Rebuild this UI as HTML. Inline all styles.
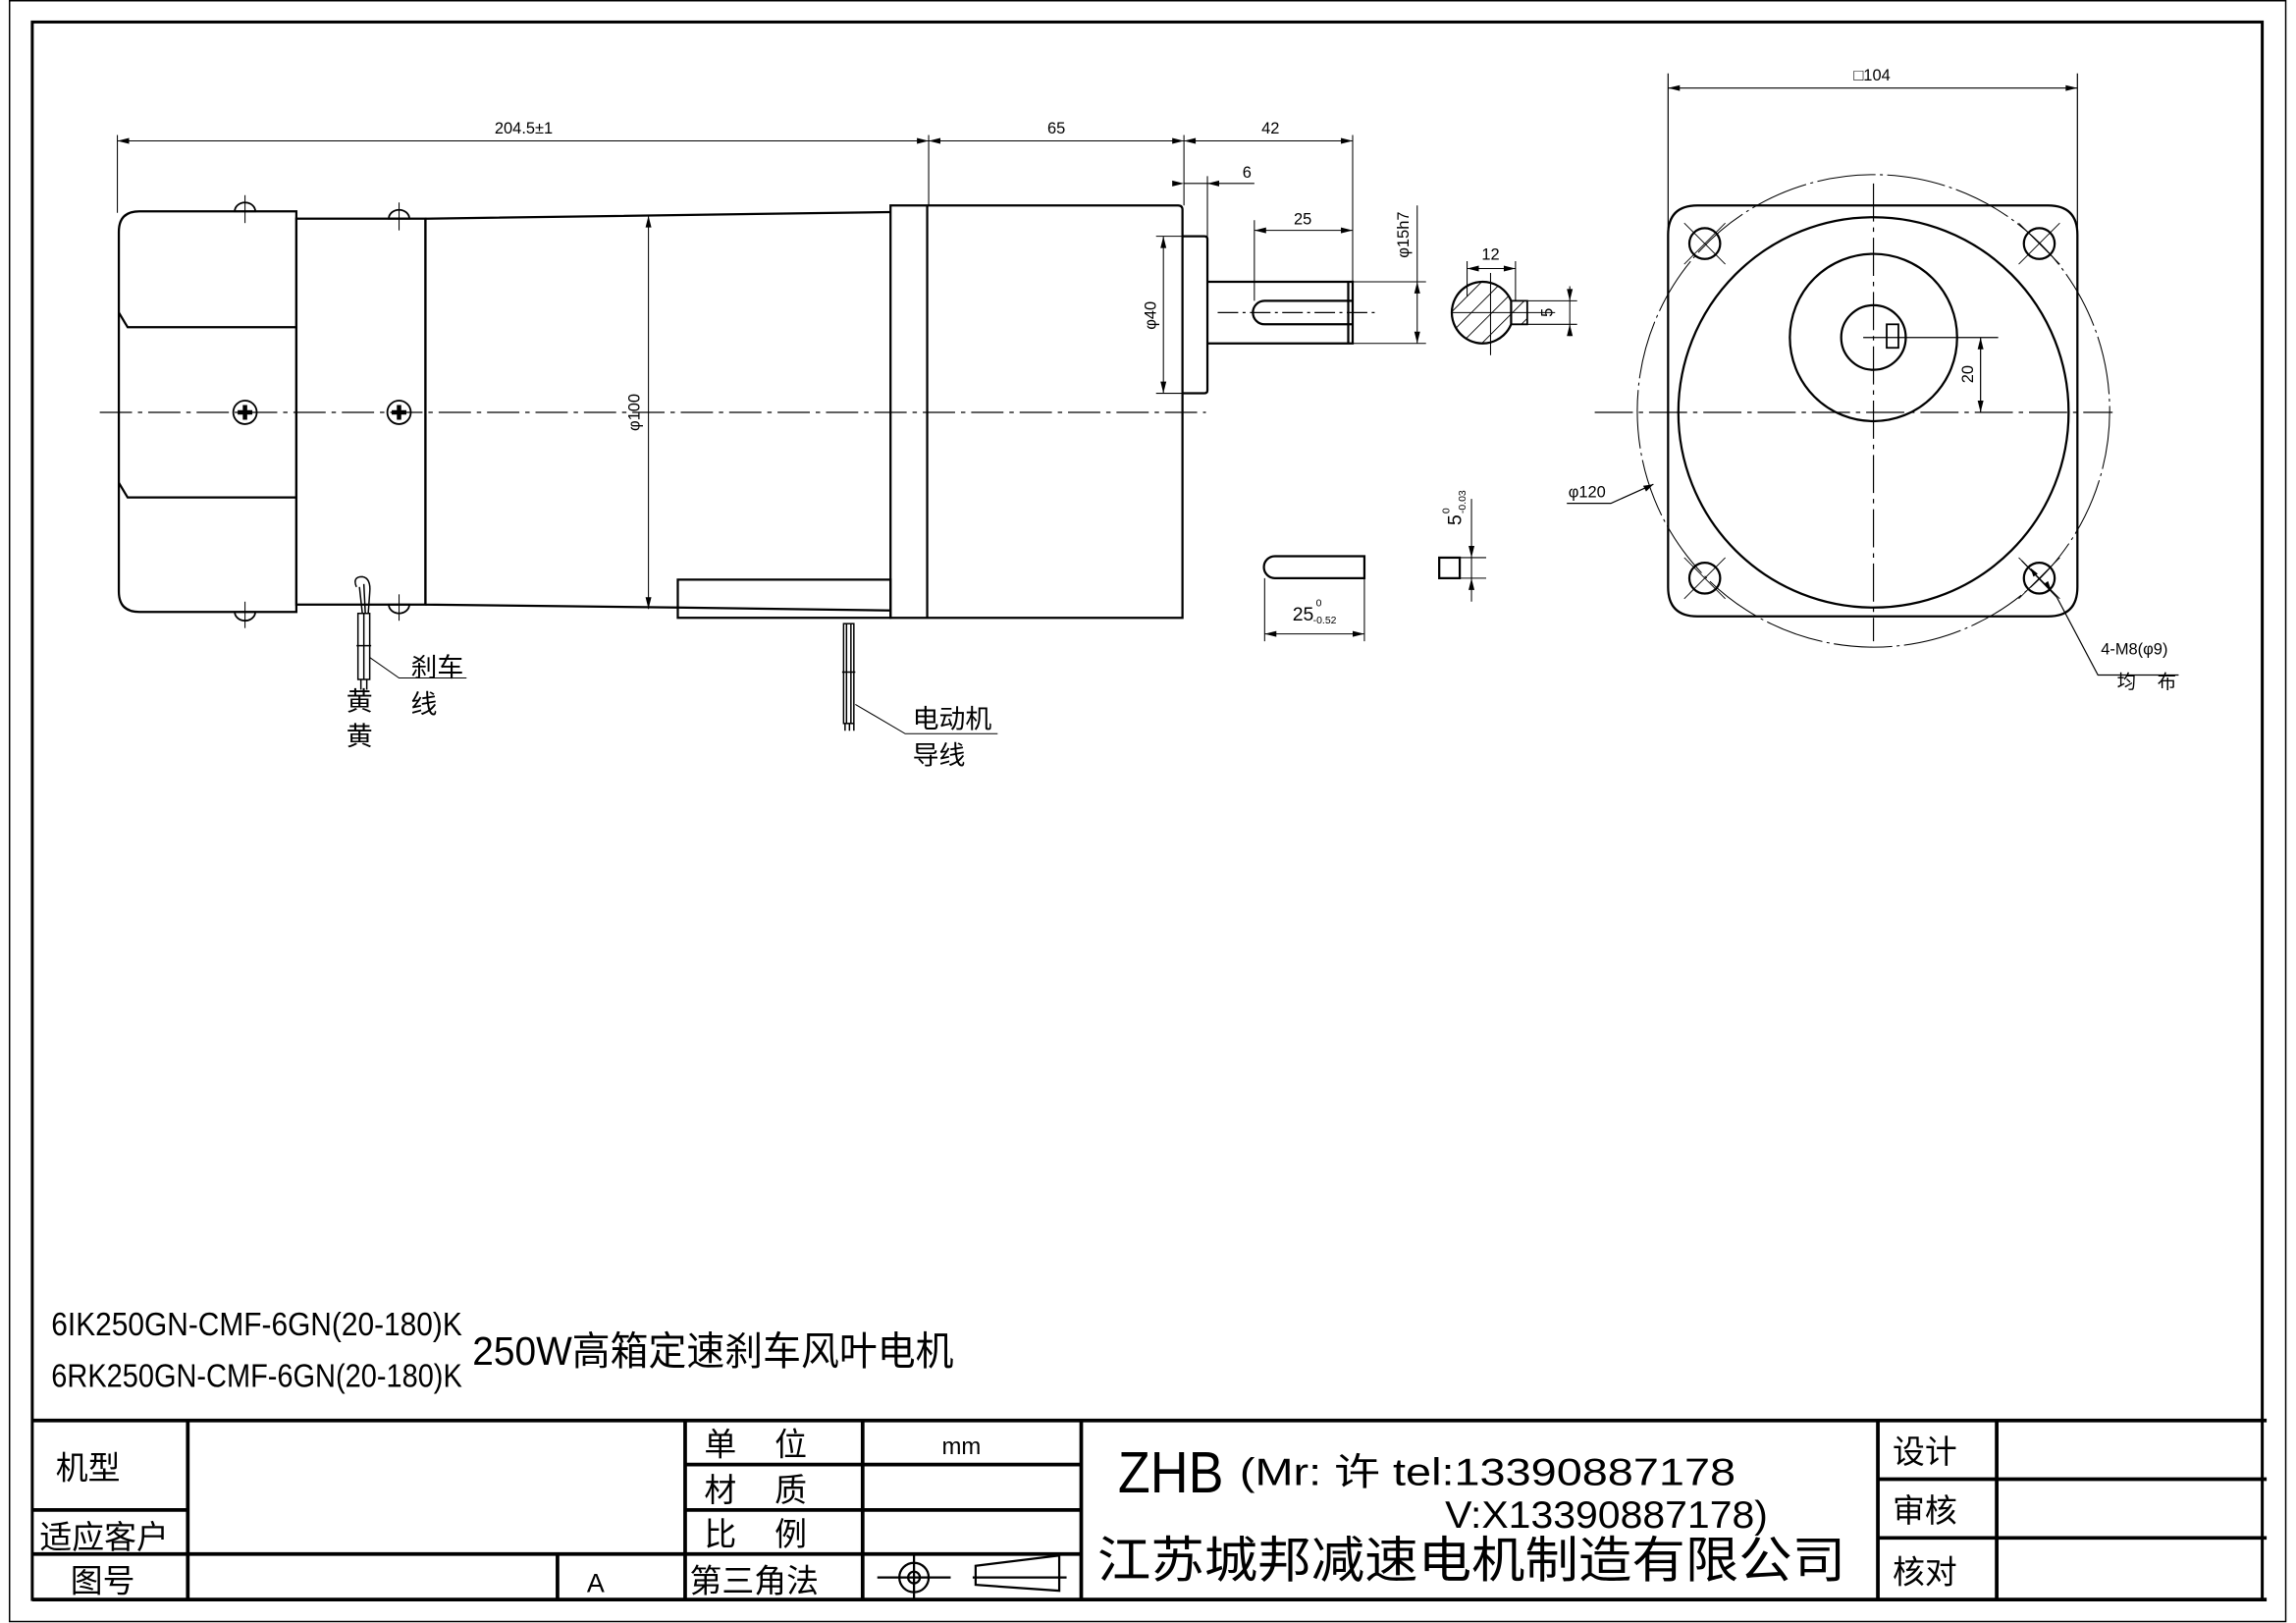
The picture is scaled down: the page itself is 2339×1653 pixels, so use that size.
<!DOCTYPE html>
<html><head><meta charset="utf-8"><style>
html,body{margin:0;padding:0;background:#fff}
svg{display:block}
text{font-family:"Liberation Sans","Noto Sans CJK SC",sans-serif;fill:#000;white-space:pre}
</style></head><body>
<svg width="2339" height="1653" viewBox="0 0 1565 1106" xmlns="http://www.w3.org/2000/svg">
<g fill="none" stroke="#000" stroke-width="1.5">
<rect x="6.5" y="0.5" width="1551.5" height="1104.5" stroke-width="1"/>
<rect x="22" y="15" width="1520" height="1075" stroke-width="2"/>
<line x1="68" y1="281" x2="822" y2="281" stroke-width="0.8" stroke-dasharray="22,4,3,4"/>
<path d="M202,144 H95 Q81,144 81,158 V403 Q81,417 95,417 H202 Z"/>
<path d="M81,213 L87,223 H202 M81,329 L87,339 H202"/>
<rect x="202" y="149" width="88" height="263"/>
<path d="M290,149 L607,144.5 M290,412 L462,414 L607,416 M290,149 V412"/>
<rect x="462" y="395" width="145" height="26"/>
<path d="M607,140 H803 Q806,140 806,143 V421 H607 Z M632,140 V421"/>
<path d="M806,161 H821 Q823,161 823,163 V266 Q823,268 821,268 H806"/>
<path d="M823,192 H922 V234 H823 M919,192 V234 M862,205 H922 M862,221 H922 M862,205 A8,8 0 0 0 862,221"/>
<line x1="830" y1="213" x2="940" y2="213" stroke-width="0.8" stroke-dasharray="14,3,2,3"/>
</g>
<g fill="none" stroke="#000" stroke-width="1.2">
<path d="M160,144 A7,6 0 0 1 174,144 Z M160,417 A7,6 0 0 0 174,417 Z M265,149 A7,6 0 0 1 279,149 Z M265,412 A7,6 0 0 0 279,412 Z"/>
<line x1="167" y1="133" x2="167" y2="152" stroke-width="0.7"/><line x1="167" y1="410" x2="167" y2="428" stroke-width="0.7"/>
<line x1="272" y1="138" x2="272" y2="157" stroke-width="0.7"/><line x1="272" y1="405" x2="272" y2="423" stroke-width="0.7"/>
<circle cx="167" cy="281" r="8"/><circle cx="272" cy="281" r="8"/>
<path d="M162,281 H172 M167,276 V286 M267,281 H277 M272,276 V286" stroke-width="3"/>
</g>
<g fill="none" stroke="#000" stroke-width="1">
<path d="M243,400 Q240,393 247,393 Q253,394 252,404 L251,418 M245,400 L247,418 M248,398 L249,418"/>
<rect x="244" y="418" width="8" height="45"/>
<line x1="248" y1="418" x2="248" y2="463"/>
<line x1="243" y1="440" x2="253" y2="440"/>
<line x1="246" y1="463" x2="246" y2="470"/><line x1="250" y1="463" x2="250" y2="470"/>
<path d="M252,448 L272,462 H318" stroke-width="0.7"/>
<rect x="575" y="425" width="7" height="68"/>
<line x1="577" y1="425" x2="577" y2="493"/><line x1="580" y1="425" x2="580" y2="493"/>
<line x1="574" y1="458" x2="583" y2="458"/>
<path d="M576,493 V498 M579,493 V498 M582,493 V498"/>
<path d="M583,480 L617,500 H680" stroke-width="0.7"/>
</g>
<text x="280" y="461" font-size="18">刹车</text>
<text x="280" y="486" font-size="18">线</text>
<text x="236" y="484" font-size="18">黄</text>
<text x="236" y="508" font-size="18">黄</text>
<text x="622" y="496" font-size="18">电动机</text>
<text x="622" y="521" font-size="18">导线</text>
<g stroke="#000" stroke-width="0.7" fill="none">
<path d="M80,92 V145 M633,92 V140 M807,92 V140 M922,92 V192 M80,96 H922"/>
<path d="M823,120 V161 M807,125 H855 M855,150 V205 M855,157 H922"/>
<path d="M922,192 H972 M922,234 H972 M966,140 V234"/>
<path d="M788,161 H806 M788,268 H806 M793,161 V268"/>
<path d="M442,147 V415"/>
</g>
<g fill="#000">
<path d="M80,96 l8,-2 v4z M633,96 l-8,-2 v4z M633,96 l8,-2 v4z M807,96 l-8,-2 v4z M807,96 l8,-2 v4z M922,96 l-8,-2 v4z"/>
<path d="M807,125 l-8,-2 v4z M823,125 l8,-2 v4z M855,157 l8,-2 v4z M922,157 l-8,-2 v4z"/>
<path d="M966,192 l-2,8 h4z M966,234 l-2,-8 h4z M793,161 l-2,8 h4z M793,268 l-2,-8 h4z M442,147 l-2,8 h4z M442,415 l-2,-8 h4z"/>
</g>
<g font-size="11">
<text x="357" y="91" text-anchor="middle">204.5±1</text>
<text x="720" y="91" text-anchor="middle">65</text>
<text x="866" y="91" text-anchor="middle">42</text>
<text x="850" y="121" text-anchor="middle">6</text>
<text x="888" y="153" text-anchor="middle">25</text>
<text transform="translate(960,160) rotate(-90)" text-anchor="middle">φ15h7</text>
<text transform="translate(788,215) rotate(-90)" text-anchor="middle">φ40</text>
<text transform="translate(436,281) rotate(-90)" text-anchor="middle">φ100</text>
</g>
<defs><clipPath id="kc"><path d="M1030,205 A21,21 0 1 0 1030,221 H1041 V205 Z"/></clipPath></defs>
<g clip-path="url(#kc)" stroke="#000" stroke-width="0.6">
<path d="M990,240 L1040,190 M980,236 L1030,186 M1000,244 L1050,194 M1010,248 L1060,198 M970,232 L1020,182 M1020,252 L1070,202"/>
</g>
<path d="M1030,205 A21,21 0 1 0 1030,221 V205" fill="none" stroke="#000" stroke-width="1.5"/>
<path d="M1030,205 H1041 V221 H1030" fill="none" stroke="#000" stroke-width="1.2"/>
<g stroke="#000" stroke-width="0.7" fill="none">
<path d="M990,213 H1060 M1016,186 V242 M1000,178 V202 M1033,178 V205 M1000,183 H1033 M1041,205 H1075 M1041,221 H1075 M1070,195 V229"/>
</g>
<g fill="#000"><path d="M1000,183 l8,-2 v4z M1033,183 l-8,-2 v4z M1070,205 l-2,-8 h4z M1070,221 l-2,8 h4z"/></g>
<text x="1016" y="177" font-size="11" text-anchor="middle">12</text>
<text transform="translate(1058,213) rotate(-90)" font-size="11" text-anchor="middle">5</text>
<path d="M869,379 H930 V394 H869 A7.5,7.5 0 0 1 869,379 Z" fill="none" stroke="#000" stroke-width="1.5"/>
<g stroke="#000" stroke-width="0.7" fill="none"><path d="M862,394 V437 M930,394 V437 M862,432 H930"/></g>
<g fill="#000"><path d="M862,432 l8,-2 v4z M930,432 l-8,-2 v4z"/></g>
<text x="881" y="423" font-size="13">25</text><text x="897" y="413" font-size="7">0</text><text x="895" y="425" font-size="7">-0.52</text>
<rect x="981" y="380" width="14" height="14" fill="none" stroke="#000" stroke-width="1.5"/>
<g stroke="#000" stroke-width="0.7" fill="none"><path d="M995,380 H1013 M995,394 H1013 M1003,340 V410"/></g>
<g fill="#000"><path d="M1003,380 l-2,-8 h4z M1003,394 l-2,8 h4z"/></g>
<g transform="translate(996,358) rotate(-90)"><text font-size="13">5</text><text x="8" y="-8" font-size="7">0</text><text x="8" y="3" font-size="7">-0.03</text></g>
<g fill="none" stroke="#000" stroke-width="1.5">
<path d="M1157,140 H1396 Q1416,140 1416,160 V400 Q1416,420 1396,420 H1157 Q1137,420 1137,400 V160 Q1137,140 1157,140 Z"/>
<circle cx="1277" cy="281" r="133"/>
<circle cx="1277" cy="230" r="57"/>
<circle cx="1277" cy="230" r="22"/>
<rect x="1286" y="221" width="8" height="16" stroke-width="1.2"/>
<circle cx="1162" cy="166" r="10.5"/><circle cx="1390" cy="166" r="10.5"/>
<circle cx="1162" cy="394" r="10.5"/><circle cx="1390" cy="394" r="10.5"/>
</g>
<circle cx="1277" cy="280" r="161" fill="none" stroke="#000" stroke-width="0.7" stroke-dasharray="40,3,2,3"/>
<g stroke="#000" stroke-width="0.6" fill="none">
<path d="M1148,152 L1176,180 M1176,152 L1148,180 M1376,152 L1404,180 M1404,152 L1376,180 M1148,380 L1176,408 M1176,380 L1148,408 M1376,380 L1404,408 M1404,380 L1376,408"/>
</g>
<g stroke="#000" stroke-width="0.8" fill="none">
<line x1="1087" y1="281" x2="1440" y2="281" stroke-dasharray="26,4,3,4"/>
<line x1="1277" y1="125" x2="1277" y2="437" stroke-dasharray="26,4,3,4"/>
<path d="M1270,230 H1362 M1350,230 V281"/>
<path d="M1137,50 V180 M1416,50 V180 M1137,60 H1416"/>
<path d="M1068,343 H1098 L1127,330"/>
<path d="M1378,382 L1402,407 L1430,460 H1485"/>
</g>
<g fill="#000"><path d="M1350,230 l-2,8 h4z M1350,281 l-2,-8 h4z M1137,60 l8,-2 v4z M1416,60 l-8,-2 v4z M1127,330 l-7,1 2,4z M1384,387 l2,6 3,-2z M1398,402 l-2,-6 -3,2z"/></g>
<g font-size="11">
<text transform="translate(1345,255) rotate(-90)" text-anchor="middle">20</text>
<text x="1276" y="55" text-anchor="middle">□104</text>
<text x="1069" y="339">φ120</text>
<text x="1432" y="446">4-M8(φ9)</text>
<text x="1443" y="469" font-size="13">均    布</text>
</g>
<text x="35" y="910" font-size="22" font-family="Liberation Serif,serif" textLength="280" lengthAdjust="spacingAndGlyphs">6IK250GN-CMF-6GN(20-180)K</text>
<text x="35" y="945" font-size="22" font-family="Liberation Serif,serif" textLength="280" lengthAdjust="spacingAndGlyphs">6RK250GN-CMF-6GN(20-180)K</text>
<text x="322" y="930" font-size="27" textLength="328" lengthAdjust="spacingAndGlyphs">250W高箱定速刹车风叶电机</text>
<g stroke="#000" stroke-width="2.5" fill="none">
<path d="M22,968 H1545 M22,1090 H1545"/>
<path d="M22,1029 H128 M22,1059 H737 M467,998 H737 M467,1029 H737 M1280,1008 H1545 M1280,1048 H1545"/>
<path d="M128,968 V1090 M467,968 V1090 M588,968 V1090 M737,968 V1090 M1280,968 V1090 M1361,968 V1090 M380,1059 V1090"/>
</g>
<g font-size="22">
<text x="38" y="1008">机型</text>
<text x="27" y="1055">适应客户</text>
<text x="48" y="1085">图号</text>
<text x="400" y="1085" font-size="18">A</text>
<text x="480" y="992">单</text><text x="528" y="992">位</text>
<text x="480" y="1023">材</text><text x="528" y="1023">质</text>
<text x="480" y="1053">比</text><text x="528" y="1053">例</text>
<text x="470" y="1085">第三角法</text>
<text x="642" y="991" font-size="16">mm</text>
<text x="1290" y="997">设计</text>
<text x="1290" y="1037">审核</text>
<text x="1290" y="1079">核对</text>
</g>
<text x="762" y="1017" font-size="40" textLength="72" lengthAdjust="spacingAndGlyphs">ZHB</text>
<text x="845" y="1012" font-size="26" textLength="338" lengthAdjust="spacingAndGlyphs">(Mr: 许 tel:13390887178</text>
<text x="985" y="1041" font-size="26" textLength="220" lengthAdjust="spacingAndGlyphs">V:X13390887178)</text>
<text x="748" y="1075" font-size="34" textLength="510" lengthAdjust="spacingAndGlyphs">江苏城邦减速电机制造有限公司</text>
<g stroke="#000" stroke-width="1.5" fill="none">
<circle cx="623" cy="1075" r="10"/><circle cx="623" cy="1075" r="4"/>
<path d="M598,1075 H648 M623,1060 V1090 M663,1075 H727"/>
<path d="M665,1067 L722,1060 V1084 L665,1080 Z"/>
</g>
</svg>
</body></html>
